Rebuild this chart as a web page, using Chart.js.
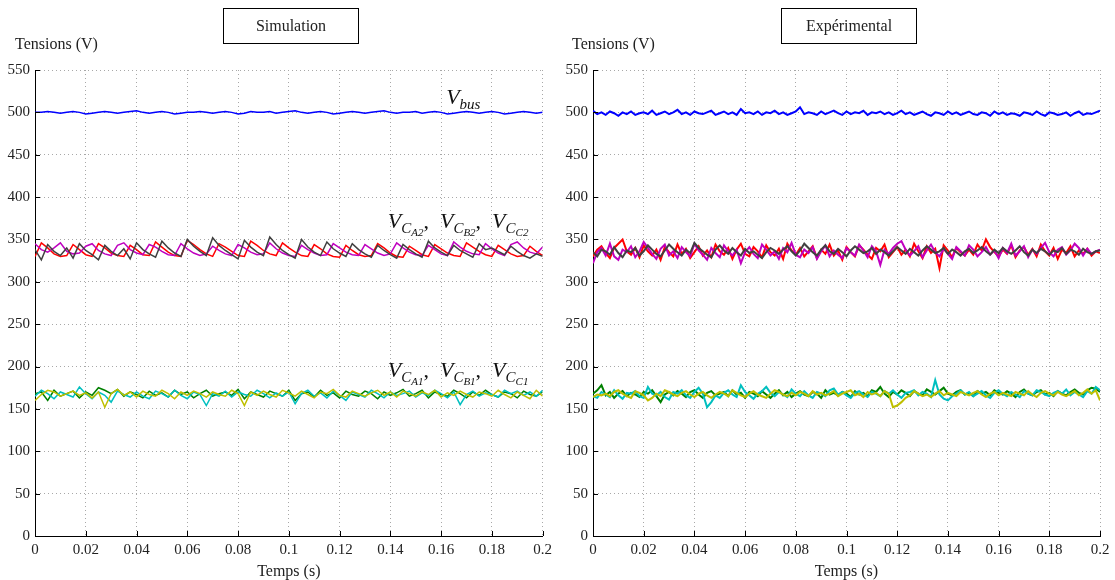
<!DOCTYPE html>
<html>
<head>
<meta charset="utf-8">
<script src="https://cdn.jsdelivr.net/npm/chart.js@4.4.0/dist/chart.umd.min.js"></script>
<style>
html, body { margin: 0; padding: 0; background: #fff; }
#wrap { position: relative; width: 1115px; height: 580px; }
.pane { position: absolute; top: 0; height: 580px; }
</style>
</head>
<body>
<div id="wrap">
  <div class="pane" style="left:0;width:557px"><canvas id="sim" width="557" height="580"></canvas></div>
  <div class="pane" style="left:557px;width:558px"><canvas id="exp" width="558" height="580"></canvas></div>
</div>
<script>
'use strict';

// tick labels
var xTicks = [0, 0.02, 0.04, 0.06, 0.08, 0.1, 0.12, 0.14, 0.16, 0.18, 0.2];
var yTicks = [0, 50, 100, 150, 200, 250, 300, 350, 400, 450, 500, 550];

// simulation (81 samples over 0..0.2 s)
var simVbus = [
  500,500,501,500,499,500,501,500,498,499,
  500,501,500,499,500,501,502,500,499,500,
  501,500,498,499,500,500,501,500,499,500,
  501,500,498,499,501,500,500,501,499,500,
  501,502,500,499,500,501,500,498,499,500,
  501,500,499,500,501,502,500,499,500,500,
  501,499,500,501,500,498,499,500,501,500,
  499,500,501,500,498,499,500,501,500,499,
  500
];
var simVca2 = [
  330,346,340,333,330,331,344,338,332,330,
  345,340,334,331,330,343,338,332,331,347,
  341,335,331,330,349,344,338,333,330,345,
  341,336,331,330,348,343,337,333,331,346,
  340,335,331,330,344,339,333,330,329,343,
  337,332,330,331,345,340,334,330,329,342,
  337,332,330,344,339,334,331,330,346,341,
  336,332,330,343,338,333,330,331,342,336,
  331
];
var simVcb2 = [
  345,338,335,340,346,336,333,334,342,345,
  337,333,331,343,346,338,334,332,344,341,
  336,332,331,345,339,334,331,333,342,337,
  333,331,344,340,335,332,333,346,339,334,
  331,330,343,338,334,331,332,345,340,335,
  332,331,344,339,334,331,333,346,340,335,
  332,331,343,338,333,331,347,341,336,333,
  332,345,339,334,331,344,347,340,335,333,
  341
];
var simVcc2 = [
  338,326,344,336,331,340,328,345,337,332,
  326,343,336,331,339,327,346,338,333,329,
  348,340,334,330,350,342,336,331,352,343,
  337,332,327,349,341,335,331,353,344,337,
  332,328,350,341,335,331,347,339,334,330,
  345,338,333,329,343,337,332,328,344,338,
  333,329,348,340,335,331,343,337,333,329,
  345,338,340,336,332,342,336,331,328,333,
  330
];
var simVca1 = [
  168,170,160,172,165,168,171,163,170,166,
  175,172,168,173,165,170,167,163,171,166,
  169,164,172,167,170,163,168,172,165,168,
  170,166,173,162,170,167,164,171,168,165,
  172,160,168,170,164,172,166,169,163,171,
  167,165,171,168,162,170,166,169,173,165,
  168,172,163,170,167,165,172,168,163,170,
  166,172,167,164,170,168,163,171,167,165,
  170
];
var simVcb1 = [
  165,172,168,162,170,167,164,176,168,162,
  170,166,158,171,167,164,170,165,162,171,
  168,164,172,166,162,170,167,154,168,165,
  171,164,170,167,165,172,168,163,169,165,
  170,156,168,172,165,169,163,171,166,160,
  170,167,164,172,168,163,170,166,168,171,
  164,169,166,172,168,163,170,155,167,171,
  165,169,167,164,172,168,171,166,170,165,
  172
];
var simVcc1 = [
  160,167,172,170,165,168,171,166,169,163,
  170,152,168,173,166,170,164,171,167,165,
  172,168,162,170,166,171,168,164,170,167,
  165,172,168,154,170,166,171,167,164,172,
  169,165,171,167,163,170,168,173,166,164,
  171,168,165,169,172,166,170,164,171,168,
  165,170,167,172,164,169,166,171,167,164,
  170,168,165,172,167,163,170,166,162,172,
  165
];

// experimental (121 samples over 0..0.2 s)
var expVbus = [
  502,498,500,497,501,499,496,500,498,501,
  497,499,500,498,502,497,499,501,498,500,
  503,498,500,497,501,499,498,500,502,497,
  499,501,498,500,497,504,499,500,498,501,
  497,500,499,502,498,500,497,499,501,506,
  498,500,499,497,501,498,500,502,499,497,
  501,498,500,499,502,497,500,499,501,498,
  500,497,499,502,498,500,497,499,501,498,
  496,500,499,497,501,498,500,497,499,501,
  498,497,500,499,496,501,498,500,497,499,
  498,496,500,499,497,501,498,496,500,499,
  497,498,500,496,499,501,497,499,498,500,
  502
];
var expVca2 = [
  330,338,342,334,328,340,345,350,336,332,
  340,329,343,336,331,338,326,341,335,330,
  344,333,339,328,335,342,331,337,329,344,
  336,332,340,327,338,345,333,330,341,336,
  329,343,335,331,339,327,345,337,332,340,
  330,336,342,328,338,333,344,331,337,326,
  341,335,330,343,338,332,327,340,336,344,
  329,335,341,332,338,330,345,336,328,342,
  334,339,316,343,337,329,340,335,331,338,
  332,344,337,350,341,335,330,338,333,343,
  329,337,341,332,339,330,344,336,331,340,
  327,338,334,342,330,337,333,339,331,336,
  334
];
var expVcb2 = [
  322,335,340,331,345,330,326,338,335,342,
  329,336,347,340,333,327,339,344,331,336,
  328,341,335,330,345,337,332,326,340,334,
  329,343,336,331,338,322,335,341,333,328,
  344,338,331,336,327,340,335,346,332,329,
  338,334,341,327,336,343,330,337,332,328,
  340,335,331,344,337,329,342,336,320,338,
  333,340,345,348,338,331,336,342,329,337,
  344,335,330,339,333,327,341,336,331,343,
  338,330,335,341,332,337,328,340,334,345,
  331,336,342,329,338,333,340,346,335,330,
  338,341,332,337,345,340,331,339,333,336,
  338
];
var expVcc2 = [
  335,330,338,336,332,341,334,329,337,335,
  340,331,336,343,338,333,330,337,344,339,
  335,331,338,334,346,340,336,332,329,338,
  343,337,333,340,335,331,339,334,336,332,
  328,335,340,337,333,338,342,336,331,337,
  345,340,335,331,338,343,336,333,339,335,
  330,337,342,338,334,336,340,333,338,335,
  331,336,341,337,333,339,335,331,337,342,
  338,334,336,340,333,338,335,331,336,339,
  334,337,341,336,332,338,334,340,336,333,
  337,342,335,331,338,334,339,336,332,337,
  335,340,333,338,336,332,339,335,333,336,
  337
];
var expVca1 = [
  168,172,178,166,170,163,168,171,165,169,
  167,164,170,168,172,165,158,167,170,166,
  171,168,164,170,172,167,163,169,171,166,
  168,170,165,172,167,169,163,170,168,165,
  171,167,163,168,172,166,170,164,168,171,
  167,165,170,168,163,172,167,169,166,170,
  168,164,171,167,169,165,172,170,176,168,
  164,170,167,172,169,165,171,168,166,173,
  170,167,171,175,168,166,170,172,167,169,
  165,171,168,170,166,172,169,167,171,168,
  164,170,173,168,166,170,172,167,169,165,
  171,168,166,170,173,169,167,172,175,174,
  170
];
var expVcb1 = [
  165,163,170,167,164,172,166,162,169,168,
  171,165,163,176,168,166,170,164,161,170,
  168,172,166,163,170,175,168,152,158,166,
  163,169,172,167,164,178,170,166,162,168,
  171,176,169,165,170,167,164,173,168,165,
  171,166,163,170,168,165,172,174,167,170,
  166,163,169,171,167,164,170,168,165,171,
  168,172,167,163,169,170,172,166,170,168,
  164,184,167,162,160,165,168,172,167,170,
  165,168,171,166,163,169,172,168,165,170,
  167,164,171,168,166,172,170,167,165,169,
  171,168,173,166,170,167,164,171,168,176,
  172
];
var expVcc1 = [
  164,167,166,168,165,170,172,168,165,163,
  171,169,166,160,163,168,165,172,170,167,
  165,169,171,167,164,168,170,166,163,167,
  170,168,165,172,169,166,164,168,171,167,
  165,163,168,172,170,167,165,169,166,170,
  168,165,171,167,169,166,168,171,165,168,
  170,172,166,168,164,170,167,169,165,171,
  168,152,154,158,163,166,171,168,165,167,
  164,168,171,166,169,167,165,170,168,166,
  169,171,167,164,168,170,166,169,167,165,
  170,168,166,171,167,164,169,171,168,166,
  170,167,165,168,171,166,169,173,168,172,
  160
];

var SERIF = '"Liberation Serif", "DejaVu Serif", serif';
var TEND = 0.2;

function toPoints(arr) {
    var n = arr.length - 1;
    return arr.map(function (v, i) { return { x: i * TEND / n, y: v }; });
}

function line(arr, color, width) {
    return {
        data: toPoints(arr),
        borderColor: color,
        borderWidth: width,
        pointRadius: 0,
        tension: 0,
        fill: false
    };
}

// text with sub / sub-sub scripts: [text, level, italic]
function drawScripted(ctx, x, y, parts) {
    var sizes = [22, 15, 11];
    var shifts = [0, 5, 8];
    parts.forEach(function (p) {
        ctx.font = (p[2] ? 'italic ' : '') + sizes[p[1]] + 'px ' + SERIF;
        ctx.fillText(p[0], x, y + shifts[p[1]]);
        x += ctx.measureText(p[0]).width;
    });
}

function vcLabel(idx) {
    return [
        ['V', 0, true], ['C', 1, true], ['A' + idx, 2, true], [',  ', 0, false],
        ['V', 0, true], ['C', 1, true], ['B' + idx, 2, true], [',  ', 0, false],
        ['V', 0, true], ['C', 1, true], ['C' + idx, 2, true]
    ];
}

var decor = {
    id: 'decor',
    afterDraw: function (chart, args, opts) {
        var ctx = chart.ctx;
        var area = chart.chartArea;
        var xs = chart.scales.x, ys = chart.scales.y;
        ctx.save();

        // inward tick marks
        ctx.strokeStyle = '#000';
        ctx.lineWidth = 1;
        ctx.beginPath();
        xTicks.forEach(function (t) {
            var px = Math.round(xs.getPixelForValue(t)) + 0.5;
            ctx.moveTo(px, area.bottom);
            ctx.lineTo(px, area.bottom - 5);
        });
        yTicks.forEach(function (t) {
            var py = Math.round(ys.getPixelForValue(t)) + 0.5;
            ctx.moveTo(area.left, py);
            ctx.lineTo(area.left + 5, py);
        });
        ctx.stroke();

        // title box
        ctx.fillStyle = '#222';
        ctx.strokeStyle = '#000';
        ctx.strokeRect(opts.boxX + 0.5, 8.5, 135, 35);
        ctx.font = '16px ' + SERIF;
        ctx.textAlign = 'center';
        ctx.textBaseline = 'alphabetic';
        ctx.fillText(opts.title, opts.boxX + 68, 31);

        // axis titles
        ctx.font = '16px ' + SERIF;
        ctx.fillText('Temps (s)', (area.left + area.right) / 2, 576);
        ctx.textAlign = 'left';
        ctx.fillText('Tensions (V)', opts.yLabelX, 49);

        // curve labels
        if (opts.labels) {
            ctx.fillStyle = '#111';
            drawScripted(ctx, xs.getPixelForValue(0.162), ys.getPixelForValue(510),
                [['V', 0, true], ['bus', 1, true]]);
            drawScripted(ctx, xs.getPixelForValue(0.139), ys.getPixelForValue(363), vcLabel(2));
            drawScripted(ctx, xs.getPixelForValue(0.139), ys.getPixelForValue(188), vcLabel(1));
        }
        ctx.restore();
    }
};

function makeChart(id, s, cfg) {
    var w = cfg.width;
    return new Chart(document.getElementById(id), {
        type: 'line',
        data: {
            datasets: [
                line(s[0], '#0000ff', w),
                line(s[3], '#404040', w),
                line(s[2], '#bf00bf', w),
                line(s[1], '#ff0000', w),
                line(s[6], '#bfbf00', w),
                line(s[5], '#00bfbf', w),
                line(s[4], '#008000', w)
            ]
        },
        options: {
            responsive: false,
            animation: false,
            devicePixelRatio: 1,
            layout: { padding: { top: 70, right: cfg.padRight, left: 0, bottom: 0 } },
            plugins: {
                legend: { display: false },
                tooltip: { enabled: false },
                decor: cfg
            },
            scales: {
                x: {
                    type: 'linear',
                    min: 0,
                    max: TEND,
                    afterBuildTicks: function (sc) {
                        sc.ticks = xTicks.map(function (v) { return { value: v }; });
                    },
                    afterFit: function (sc) { sc.height = 44; },
                    ticks: {
                        padding: 5,
                        maxRotation: 0,
                        autoSkip: false,
                        color: '#222',
                        font: { family: SERIF, size: 15 },
                        callback: function (v) { return String(Number(v.toFixed(2))); }
                    },
                    grid: { color: '#a8a8a8', lineWidth: 1, drawTicks: false },
                    border: { display: true, color: '#000', width: 1, dash: [1, 3] }
                },
                y: {
                    min: 0,
                    max: 550,
                    afterBuildTicks: function (sc) {
                        sc.ticks = yTicks.map(function (v) { return { value: v }; });
                    },
                    afterFit: function (sc) { sc.width = cfg.yWidth; },
                    ticks: {
                        padding: 5,
                        autoSkip: false,
                        color: '#222',
                        font: { family: SERIF, size: 15 }
                    },
                    grid: { color: '#a8a8a8', lineWidth: 1, drawTicks: false },
                    border: { display: true, color: '#000', width: 1, dash: [1, 3] }
                }
            }
        },
        plugins: [decor]
    });
}

makeChart('sim',
    [simVbus, simVca2, simVcb2, simVcc2, simVca1, simVcb1, simVcc1],
    { title: 'Simulation', boxX: 223, yLabelX: 15, labels: true, width: 1.5, padRight: 13, yWidth: 35 });
makeChart('exp',
    [expVbus, expVca2, expVcb2, expVcc2, expVca1, expVcb1, expVcc1],
    { title: 'Expérimental', boxX: 224, yLabelX: 15, labels: false, width: 2, padRight: 15, yWidth: 36 });
</script>
</body>
</html>
